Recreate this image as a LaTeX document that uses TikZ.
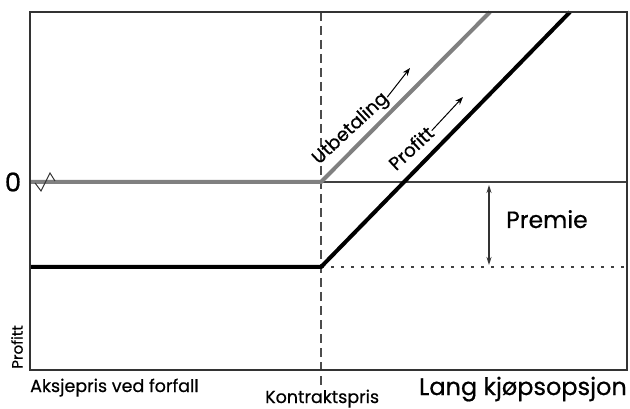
\documentclass[tikz,border=0pt]{standalone}
\usepackage{fontspec}
\setmainfont{Poppins}[FakeBold=0.6]
\usetikzlibrary{arrows.meta}
\tikzset{
  frameline/.style={draw=black!80, line width=2pt},
  zeroline/.style={draw=black!75, line width=1.2pt},
  payline/.style={draw=black!50, line width=4pt, line join=miter},
  profline/.style={draw=black, line width=4pt, line join=miter},
  kline/.style={draw=black!70, line width=1.4pt, dash pattern=on 9pt off 5pt},
  dotline/.style={draw=black!75, line width=1.5pt, dash pattern=on 2.5pt off 7.5pt},
  lbl/.style={inner sep=0pt, text=black},
  tip/.style={-{Stealth[length=8pt,width=6pt]}, line width=1pt},
  dtip/.style={{Stealth[length=8pt,width=5pt]}-{Stealth[length=8pt,width=5pt]}, line width=1.2pt, draw=black!80}
}
\begin{document}
\begin{tikzpicture}[x=1pt,y=-1pt]
\useasboundingbox (0,0) rectangle (630,409);
% coordinates
\coordinate (tl) at (30,12);
\coordinate (br) at (627,370);
\coordinate (z0) at (30,182);
\coordinate (z1) at (627,182);
\coordinate (k) at (321,182);
\coordinate (kb) at (321,267);
\coordinate (ktop) at (321,12);
\coordinate (kbot) at (321,388);
\coordinate (g0) at (30,182);
\coordinate (gend) at (490,12);
\coordinate (b0) at (30,267);
\coordinate (bend) at (570,12);
\coordinate (d1) at (627,267);
% lines
\draw[zeroline] (z0) -- (z1);
\draw[dotline] (kb) -- (d1);
\draw[kline] (ktop) -- (kbot);
\draw[payline] (g0) -- (k) -- (gend);
\draw[profline] (b0) -- (kb) -- (bend);
\draw[frameline] (tl) rectangle (br);
% break mark
\draw[black!80, line width=1pt] (35,183) -- (41,191) -- (50,173) -- (55,181);
% Premie arrow
\coordinate (pa) at (489,185);
\coordinate (pb) at (489,265);
\draw[dtip] (pa) -- (pb);
\node[lbl, font=\fontsize{23.5}{25}\selectfont, anchor=base west] (premie) at (506,228) {Premie};
% zero label
\node[lbl, font=\fontsize{26}{28}\selectfont, anchor=center] (zero) at (13,182) {0};
% rotated labels
\node[lbl, font=\fontsize{18.5}{20}\selectfont, rotate=43, anchor=center] (utb) at (351,129) {Utbetaling};
\coordinate (ub) at (410,68);
\draw[tip] ([shift={(1pt,-1pt)}]utb.east) -- (ub);
\node[lbl, font=\fontsize{18.5}{20}\selectfont, rotate=43, anchor=center] (prof) at (411,148) {Profitt};
\coordinate (prb) at (463,97);
\draw[tip] ([shift={(1pt,-1pt)}]prof.east) -- (prb);
\node[lbl, font=\fontsize{15}{16}\selectfont, rotate=90, anchor=center] (yl) at (17,347) {Profitt};
% bottom labels
\node[lbl, font=\fontsize{17.5}{19}\selectfont, anchor=base west] (xl) at (30,392) {Aksjepris ved forfall};
\node[lbl, font=\fontsize{17.5}{19}\selectfont, anchor=base west] (kl) at (265,403) {Kontraktspris};
\node[lbl, font=\fontsize{24}{26}\selectfont, anchor=base east] (title) at (627,395) {Lang kjøpsopsjon};
\end{tikzpicture}
\end{document}
